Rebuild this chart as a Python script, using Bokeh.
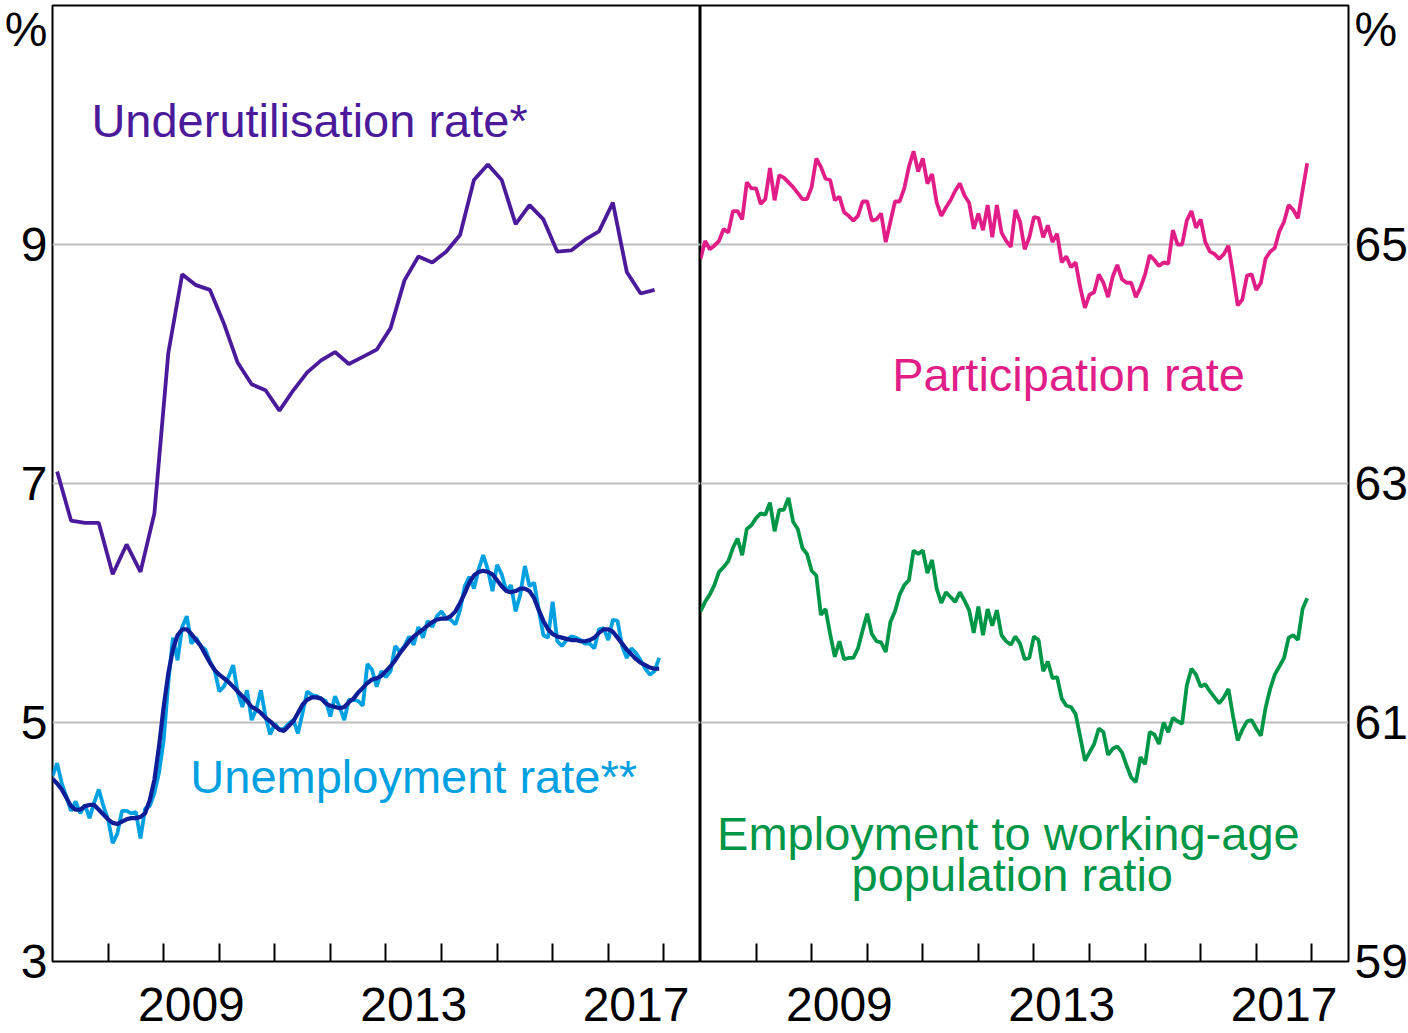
import pandas as pd
from bokeh.plotting import figure
from bokeh.models import Range1d, LinearAxis, FixedTicker, Grid, Label
from bokeh.layouts import row
from bokeh.embed import file_html
from bokeh.resources import INLINE

# ---------------- data ----------------
# monthly, Jan 2007 - Dec 2017
unemployment = [
    4.55, 4.66, 4.49, 4.38, 4.26, 4.34, 4.24, 4.31, 4.20, 4.33, 4.44, 4.30,
    4.19, 3.99, 4.07, 4.26, 4.26, 4.24, 4.25, 4.03, 4.28, 4.30, 4.41, 4.58,
    4.85, 5.33, 5.71, 5.52, 5.80, 5.89, 5.66, 5.71, 5.64, 5.61, 5.51, 5.44,
    5.26, 5.30, 5.38, 5.48, 5.25, 5.13, 5.27, 5.02, 5.11, 5.27, 5.05, 4.90,
    4.99, 4.94, 4.95, 4.99, 5.02, 4.91, 5.08, 5.26, 5.23, 5.22, 5.20, 5.18,
    5.05, 5.22, 5.13, 5.02, 5.19, 5.19, 5.18, 5.14, 5.49, 5.44, 5.30, 5.43,
    5.38, 5.43, 5.64, 5.59, 5.64, 5.72, 5.65, 5.80, 5.71, 5.85, 5.80, 5.89,
    5.93, 5.87, 5.86, 5.82, 5.94, 6.14, 6.22, 6.12, 6.28, 6.40, 6.28, 6.10,
    6.32, 6.24, 6.10, 6.15, 5.93, 6.07, 6.31, 6.14, 6.17, 5.94, 5.73, 5.71,
    6.01, 5.68, 5.64, 5.69, 5.72, 5.71, 5.69, 5.66, 5.66, 5.62, 5.78, 5.79,
    5.69, 5.86, 5.85, 5.64, 5.54, 5.62, 5.58, 5.52, 5.45, 5.40, 5.43, 5.54,
]
unemployment_trend = [
    4.53, 4.49, 4.44, 4.37, 4.30, 4.27, 4.27, 4.30, 4.31, 4.31, 4.27, 4.23,
    4.19, 4.16, 4.15, 4.17, 4.19, 4.20, 4.20, 4.21, 4.24, 4.35, 4.52, 4.80,
    5.13, 5.41, 5.61, 5.73, 5.78, 5.78, 5.74, 5.69, 5.64, 5.57, 5.50, 5.44,
    5.40, 5.37, 5.34, 5.30, 5.26, 5.22, 5.18, 5.13, 5.11, 5.08, 5.04, 5.01,
    4.97, 4.94, 4.93, 4.97, 5.01, 5.08, 5.15, 5.19, 5.21, 5.21, 5.20, 5.16,
    5.14, 5.13, 5.12, 5.13, 5.17, 5.20, 5.25, 5.29, 5.33, 5.36, 5.37, 5.39,
    5.43, 5.47, 5.52, 5.58, 5.63, 5.68, 5.72, 5.75, 5.78, 5.81, 5.84, 5.86,
    5.87, 5.87, 5.89, 5.93, 6.00, 6.08, 6.17, 6.23, 6.26, 6.27, 6.26, 6.24,
    6.19, 6.14, 6.10, 6.09, 6.10, 6.12, 6.12, 6.10, 6.04, 5.94, 5.85, 5.78,
    5.74, 5.72, 5.71, 5.70, 5.69, 5.69, 5.68, 5.68, 5.69, 5.71, 5.75, 5.78,
    5.78, 5.76, 5.71, 5.66, 5.61, 5.57, 5.53, 5.50, 5.48, 5.46, 5.45, 5.45,
]
participation = [
    64.88, 65.03, 64.96, 64.99, 65.03, 65.13, 65.10, 65.28, 65.28, 65.21, 65.52, 65.47,
    65.47, 65.34, 65.38, 65.64, 65.37, 65.58, 65.56, 65.52, 65.48, 65.43, 65.38, 65.38,
    65.48, 65.72, 65.65, 65.55, 65.54, 65.37, 65.40, 65.27, 65.24, 65.20, 65.24, 65.36,
    65.36, 65.20, 65.21, 65.26, 65.02, 65.19, 65.36, 65.36, 65.47, 65.65, 65.78, 65.61,
    65.72, 65.51, 65.59, 65.35, 65.24, 65.31, 65.37, 65.45, 65.51, 65.41, 65.35, 65.13,
    65.26, 65.12, 65.33, 65.06, 65.33, 65.10, 65.03, 64.98, 65.29, 65.19, 64.96, 65.06,
    65.23, 65.22, 65.06, 65.16, 65.02, 65.09, 64.85, 64.90, 64.81, 64.85, 64.64, 64.47,
    64.58, 64.60, 64.75, 64.68, 64.56, 64.73, 64.83, 64.71, 64.68, 64.68, 64.56, 64.64,
    64.75, 64.91, 64.87, 64.82, 64.85, 64.84, 65.12, 65.00, 65.00, 65.20, 65.28, 65.14,
    65.21, 65.02, 64.94, 64.92, 64.88, 64.92, 64.99, 64.75, 64.49, 64.54, 64.74, 64.75,
    64.62, 64.68, 64.88, 64.94, 64.97, 65.11, 65.19, 65.33, 65.29, 65.22, 65.45, 65.68,
]
employment_ratio = [
    61.93, 62.01, 62.07, 62.15, 62.26, 62.30, 62.35, 62.46, 62.54, 62.40, 62.62, 62.65,
    62.71, 62.75, 62.74, 62.84, 62.60, 62.78, 62.78, 62.88, 62.68, 62.62, 62.46, 62.41,
    62.27, 62.23, 61.90, 61.95, 61.74, 61.55, 61.68, 61.53, 61.54, 61.54, 61.62, 61.77,
    61.91, 61.74, 61.68, 61.67, 61.59, 61.84, 61.93, 62.07, 62.15, 62.19, 62.44, 62.41,
    62.44, 62.25, 62.36, 62.12, 62.00, 62.09, 62.05, 62.01, 62.09, 62.02, 61.94, 61.75,
    61.97, 61.73, 61.95, 61.81, 61.94, 61.73, 61.68, 61.65, 61.72, 61.66, 61.53, 61.54,
    61.72, 61.69, 61.43, 61.51, 61.37, 61.38, 61.20, 61.14, 61.13, 61.07, 60.88, 60.68,
    60.75, 60.82, 60.95, 60.92, 60.73, 60.78, 60.80, 60.75, 60.64, 60.54, 60.50, 60.71,
    60.65, 60.92, 60.90, 60.82, 61.00, 60.92, 61.04, 61.01, 60.99, 61.31, 61.45, 61.40,
    61.30, 61.32, 61.26, 61.21, 61.16, 61.21, 61.28, 61.05, 60.85, 60.94, 61.01, 61.02,
    60.95, 60.89, 61.12, 61.28, 61.40, 61.47, 61.54, 61.71, 61.73, 61.69, 61.95, 62.04,
]
# quarterly (Feb, May, Aug, Nov), Feb 2007 - Nov 2017
underutilisation = [
    7.10, 6.69, 6.67, 6.67, 6.24, 6.49, 6.26, 6.75, 8.09, 8.75, 8.66, 8.62,
    8.34, 8.01, 7.83, 7.78, 7.61, 7.78, 7.93, 8.03, 8.10, 8.00, 8.06, 8.12,
    8.30, 8.70, 8.90, 8.85, 8.94, 9.08, 9.54, 9.67, 9.54, 9.17, 9.33, 9.21,
    8.94, 8.95, 9.04, 9.11, 9.35, 8.77, 8.59, 8.62,
]
year_bounds = list(range(2008, 2019))      # tick marks at the start of each year
year_labels = [2009, 2013, 2017]           # labelled years (centred on the year)
left_ticks = [3, 5, 7, 9]
right_ticks = [59, 61, 63, 65]

monthly = pd.date_range("2007-01-01", periods=len(unemployment), freq="MS")
quarterly = pd.date_range("2007-02-01", periods=len(underutilisation), freq="3MS")


def dec(dates):
    return [d.year + (d.month - 1) / 12 for d in dates]


tm = dec(monthly)
tq = dec(quarterly)

FONT = "Liberation Sans"
X_START, X_END = 2007.0, 2018.66
FW, FH = 648, 956

PURPLE = "#4B1A9B"
LBLUE = "#00A0E1"
NAVY = "#0F1E96"
PINK = "#E11E87"
GREEN = "#009648"


def make(side, y0, y1, ticks):
    p = figure(frame_width=FW, frame_height=FH,
               x_range=Range1d(X_START, X_END), y_range=Range1d(y0, y1),
               x_axis_type=None, y_axis_type=None,
               output_backend="svg", toolbar_location=None,
               min_border_top=5, min_border_bottom=72,
               min_border_left=52 if side == "left" else 0,
               min_border_right=0 if side == "left" else 60)
    p.outline_line_color = "black"
    p.outline_line_width = 2
    p.outline_line_alpha = 1
    p.background_fill_color = "white"
    p.border_fill_color = "white"

    mids = [y + 0.5 for y in year_labels]
    xa = LinearAxis(ticker=FixedTicker(ticks=mids, minor_ticks=year_bounds),
                    major_label_overrides={m: str(y) for m, y in zip(mids, year_labels)},
                    major_tick_in=0, major_tick_out=0,
                    minor_tick_in=18, minor_tick_out=0,
                    minor_tick_line_color="black", minor_tick_line_width=2,
                    axis_line_color=None,
                    major_label_text_font=FONT,
                    major_label_text_font_size="48px",
                    major_label_text_color="black",
                    major_label_standoff=26)
    p.add_layout(xa, "below")

    pct = y1 - 0.2   # position of the "%" unit label near the top
    ya = LinearAxis(ticker=FixedTicker(ticks=ticks + [pct]),
                    major_label_overrides={pct: "%"},
                    major_tick_in=0, major_tick_out=0,
                    minor_tick_in=0, minor_tick_out=0,
                    axis_line_color=None,
                    major_label_text_font=FONT,
                    major_label_text_font_size="48px",
                    major_label_text_color="black",
                    major_label_standoff=5 if side == "left" else 6)
    p.add_layout(ya, side)

    p.add_layout(Grid(dimension=1, ticker=FixedTicker(ticks=ticks[1:]),
                      grid_line_color="#BEBEBE", grid_line_width=2))
    return p


def series_label(p, x, y, text, color, align="left"):
    p.add_layout(Label(x=x, y=y, text=text, text_align=align,
                       text_baseline="alphabetic", text_font=FONT,
                       text_font_size="47px", text_color=color))


left = make("left", 3, 11, left_ticks)
left.line(tq, underutilisation, line_color=PURPLE, line_width=3.8)
left.line(tm, unemployment, line_color=LBLUE, line_width=3.8)
left.line(tm, unemployment_trend, line_color=NAVY, line_width=4.2)
series_label(left, 2007.70, 10.04, "Underutilisation rate*", PURPLE)
series_label(left, 2009.48, 4.55, "Unemployment rate**", LBLUE)

right = make("right", 59, 67, right_ticks)
right.line(tm, participation, line_color=PINK, line_width=3.8)
right.line(tm, employment_ratio, line_color=GREEN, line_width=3.8)
series_label(right, 2010.45, 63.91, "Participation rate", PINK)
series_label(right, 2012.54, 60.07, "Employment to working-age", GREEN, "center")
series_label(right, 2012.61, 59.73, "population ratio", GREEN, "center")

layout = row(left, right, spacing=0)
open("out.html", "w").write(file_html(layout, INLINE))
